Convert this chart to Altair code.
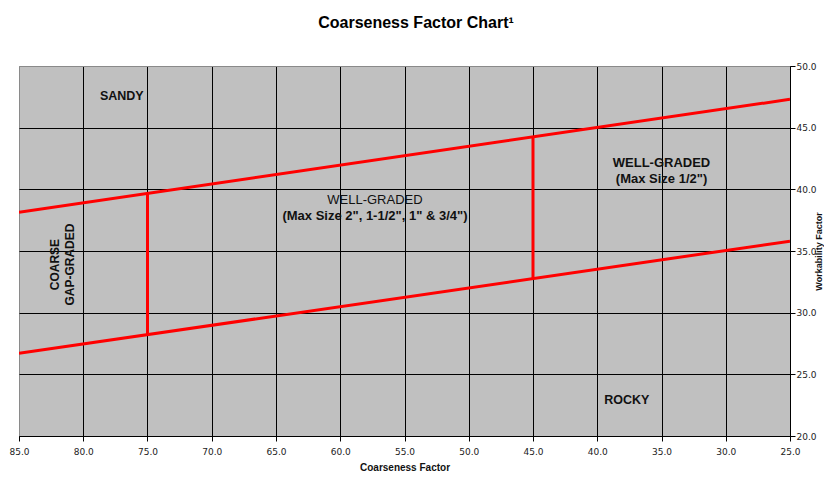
import altair as alt
import pandas as pd

# Boundary lines (coarseness factor -> workability factor)
cf_ends = [85.0, 25.0]
upper_wf = [38.15, 47.3]
lower_wf = [26.7, 35.8]

# Vertical divider lines
div_cf = [75.0, 45.0]
div_low = [28.2, 32.75]
div_high = [39.7, 44.25]

# Region labels
corner_text = ["SANDY", "ROCKY"]
corner_x = [77.0, 37.7]
corner_y = [47.6, 22.9]

wg_head_text = ["WELL-GRADED"]
wg_head_x = [57.3]
wg_head_y = [39.1]

wg_text = ["(Max Size 2\", 1-1/2\", 1\" & 3/4\")", "WELL-GRADED", "(Max Size 1/2\")"]
wg_x = [57.3, 35.0, 35.0]
wg_y = [37.85, 42.1, 40.8]

vert_text = ["COARSE", "GAP-GRADED"]
vert_x = [82.2, 81.0]
vert_y = [33.9, 33.9]

x_ticks = [85, 80, 75, 70, 65, 60, 55, 50, 45, 40, 35, 30, 25]
y_ticks = [20, 25, 30, 35, 40, 45, 50]

lines_df = pd.DataFrame({
    "cf": cf_ends + cf_ends,
    "wf": upper_wf + lower_wf,
    "series": ["upper"] * 2 + ["lower"] * 2,
})
div_df = pd.DataFrame({"cf": div_cf, "lo": div_low, "hi": div_high})
corner_df = pd.DataFrame({"t": corner_text, "x": corner_x, "y": corner_y})
wgh_df = pd.DataFrame({"t": wg_head_text, "x": wg_head_x, "y": wg_head_y})
wg_df = pd.DataFrame({"t": wg_text, "x": wg_x, "y": wg_y})
vert_df = pd.DataFrame({"t": vert_text, "x": vert_x, "y": vert_y})

FONT = "Liberation Sans"
TICKFONT = "DejaVu Sans"

xscale = alt.Scale(domain=[25, 85], reverse=True, nice=False, zero=False)
yscale = alt.Scale(domain=[20, 50], nice=False, zero=False)

xaxis = alt.Axis(
    values=x_ticks, format=".1f", title="Coarseness Factor",
    grid=True,
    gridColor={"condition": {"test": "datum.value === 85", "value": "#8a8a8a"}, "value": "#000000"},
    gridWidth=1, domainColor="#000000", tickColor="#000000", tickSize=5,
    labelFontSize=9, labelColor="#222222", labelFont=TICKFONT, labelPadding=6,
    labelFlush=False, labelOverlap=False,
    titleFont=FONT, titleFontSize=10, titleFontWeight="bold", titleColor="#111111",
    titlePadding=6,
)
yaxis = alt.Axis(
    values=y_ticks, format=".1f", title="Workability Factor", orient="right",
    grid=True,
    gridColor={"condition": {"test": "datum.value === 50", "value": "#8a8a8a"}, "value": "#000000"},
    gridWidth=1, domainColor="#000000", tickColor="#000000", tickSize=5,
    labelFontSize=9, labelColor="#222222", labelFont=TICKFONT, labelPadding=1,
    labelFlush=False, labelOverlap=False,
    titleFont=FONT, titleFontSize=9, titleFontWeight="bold", titleColor="#111111",
    titleAngle=270, titleBaseline="top", titlePadding=-2,
)

lines = alt.Chart(lines_df).mark_line(color="#FF0000", strokeWidth=3, clip=True).encode(
    x=alt.X("cf:Q", scale=xscale, axis=xaxis),
    y=alt.Y("wf:Q", scale=yscale, axis=yaxis),
    detail="series:N",
)

dividers = alt.Chart(div_df).mark_rule(color="#FF0000", strokeWidth=3).encode(
    x=alt.X("cf:Q", scale=xscale),
    y=alt.Y("lo:Q", scale=yscale),
    y2="hi:Q",
)


def text_layer(df, size, weight, angle=0):
    return alt.Chart(df).mark_text(
        font=FONT, fontSize=size, fontWeight=weight, color="#111111", angle=angle
    ).encode(
        x=alt.X("x:Q", scale=xscale),
        y=alt.Y("y:Q", scale=yscale),
        text="t:N",
    )


corner = text_layer(corner_df, 12.5, "bold")
wg_head = text_layer(wgh_df, 13, "normal")
wg = text_layer(wg_df, 13, "bold")
vlabels = text_layer(vert_df, 12, "bold", angle=270)

chart = alt.layer(lines, dividers, corner, wg_head, wg, vlabels).properties(
    width=771, height=370,
    title=alt.TitleParams("Coarseness Factor Chart\u00b9", font=FONT, fontSize=16,
                          fontWeight="bold", color="#000000", anchor="middle",
                          frame="bounds", offset=31),
    autosize=alt.AutoSizeParams(type="none"),
    padding={"left": 11, "top": 58, "right": 34, "bottom": 35},
    background="white",
).configure_view(fill="#C0C0C0", stroke="#8a8a8a", strokeWidth=1)

chart.save("out.html", embed_options={"renderer": "svg", "actions": False})
